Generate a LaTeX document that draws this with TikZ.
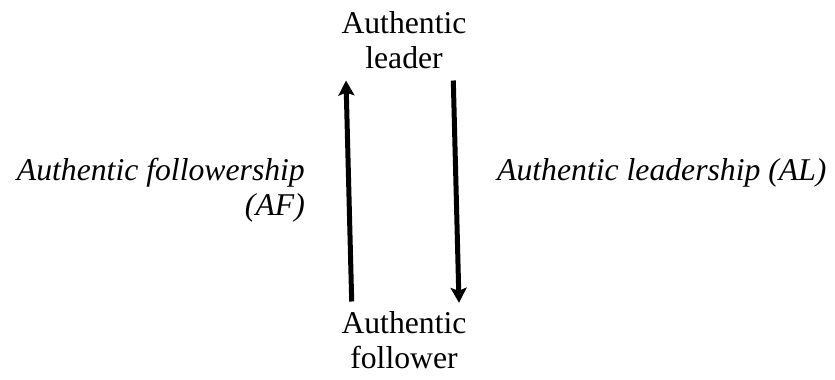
\documentclass[tikz,border=0pt]{standalone}
\usepackage{fontspec}
\setmainfont{Liberation Serif}
\usetikzlibrary{arrows.meta}
\begin{document}
\begin{tikzpicture}[x=1pt,y=1pt,
  lbl/.style={inner sep=0pt,font=\rmfamily\fontsize{31.7}{35}\selectfont},
  role/.style={lbl,align=center},
  flow/.style={line width=5pt,-{Stealth[length=15pt,width=16pt,inset=3pt]}}]
  \useasboundingbox (0,0) rectangle (835,-380);
  % the two roles (base anchor sits on the last line)
  \node[role,anchor=base] (leader) at (404,-68) {Authentic\\leader};
  \node[role,anchor=base] (follower) at (404,-368) {Authentic\\follower};
  % relation labels
  \node[lbl,align=right,anchor=base east] (af) at (305,-215) {\itshape Authentic followership\\\itshape (AF)};
  \node[lbl,anchor=base west] (al) at (497,-180) {\itshape Authentic leadership (AL)};
  % arrow end points, just below the leader and above the follower
  \coordinate (afs) at ([xshift=-52.3pt,yshift=9.3pt]follower.north);
  \coordinate (aft) at ([xshift=-58pt,yshift=-12pt]leader.south);
  \coordinate (als) at ([xshift=49.3pt,yshift=-12pt]leader.south);
  \coordinate (alt) at ([xshift=55pt,yshift=8pt]follower.north);
  \draw[flow] (afs) -- (aft);
  \draw[flow] (als) -- (alt);
\end{tikzpicture}
\end{document}
